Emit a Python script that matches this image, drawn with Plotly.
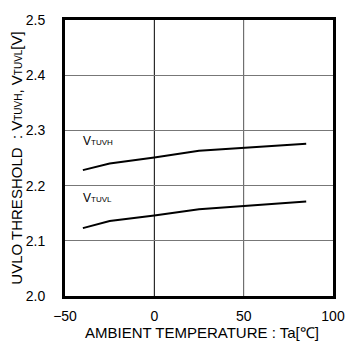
import plotly.graph_objects as go

# Ambient temperature (deg C) and UVLO thresholds (V)
temperature = [-40, -25, 0, 25, 85]
v_tuvh = [2.228, 2.240, 2.251, 2.263, 2.276]
v_tuvl = [2.123, 2.136, 2.146, 2.157, 2.171]

x_ticks = [-50, 0, 50, 100]
y_ticks = [2.0, 2.1, 2.2, 2.3, 2.4, 2.5]
y_tick_text = ["2.0", "2.1", "2.2", "2.3", "2.4", "2.5"]

font_family = "Liberation Sans, Arial, sans-serif"

fig = go.Figure()
for values in (v_tuvh, v_tuvl):
    fig.add_trace(go.Scatter(
        x=temperature, y=values, mode="lines",
        line=dict(color="black", width=2), showlegend=False,
        hoverinfo="skip",
    ))

# vertical grid: 0 line dark, 50 line grey
fig.add_shape(type="line", x0=0, x1=0, y0=2.0, y1=2.5, xref="x", yref="y",
              line=dict(color="#000000", width=1), layer="below")
fig.add_shape(type="line", x0=50, x1=50, y0=2.0, y1=2.5, xref="x", yref="y",
              line=dict(color="#555555", width=1), layer="below")


def sub(text, size):
    return '<span style="font-size:{}px">{}</span>'.format(size, text)


fig.add_annotation(x=-41, y=2.280, xref="x", yref="y", xanchor="left",
                   yanchor="middle", showarrow=False,
                   text="V" + sub("TUVH", 8),
                   font=dict(family=font_family, size=12, color="black"))
fig.add_annotation(x=-41, y=2.178, xref="x", yref="y", xanchor="left",
                   yanchor="middle", showarrow=False,
                   text="V" + sub("TUVL", 8),
                   font=dict(family=font_family, size=12, color="black"))

# x axis title placed just under the tick labels
fig.add_annotation(x=0.51, y=-0.097, xref="paper", yref="paper",
                   xanchor="center", yanchor="top", showarrow=False,
                   borderpad=0,
                   text="AMBIENT TEMPERATURE : Ta[℃]",
                   font=dict(family=font_family, size=15, color="black"))

fig.update_layout(
    width=357, height=348,
    margin=dict(l=65, r=14, t=13, b=52),
    paper_bgcolor="white", plot_bgcolor="white",
    font=dict(family=font_family, size=14, color="black"),
    xaxis=dict(
        range=[-50, 100], tickvals=x_ticks, showgrid=False, zeroline=False,
        showline=True, mirror=True, linecolor="black", linewidth=3,
        ticks="", ticklabelstandoff=5,
    ),
    yaxis=dict(
        range=[2.0, 2.5], tickvals=y_ticks, ticktext=y_tick_text,
        showgrid=True, gridcolor="#777777", gridwidth=1, zeroline=False,
        showline=True, mirror=True, linecolor="black", linewidth=3,
        ticks="", ticklabelstandoff=14,
        title=dict(
            text="UVLO THRESHOLD  : V" + sub("TUVH", 10) + ", V"
                 + sub("TUVL", 10) + "[V]",
            standoff=0, font=dict(size=15)),
    ),
)

fig.write_html("out.html")
